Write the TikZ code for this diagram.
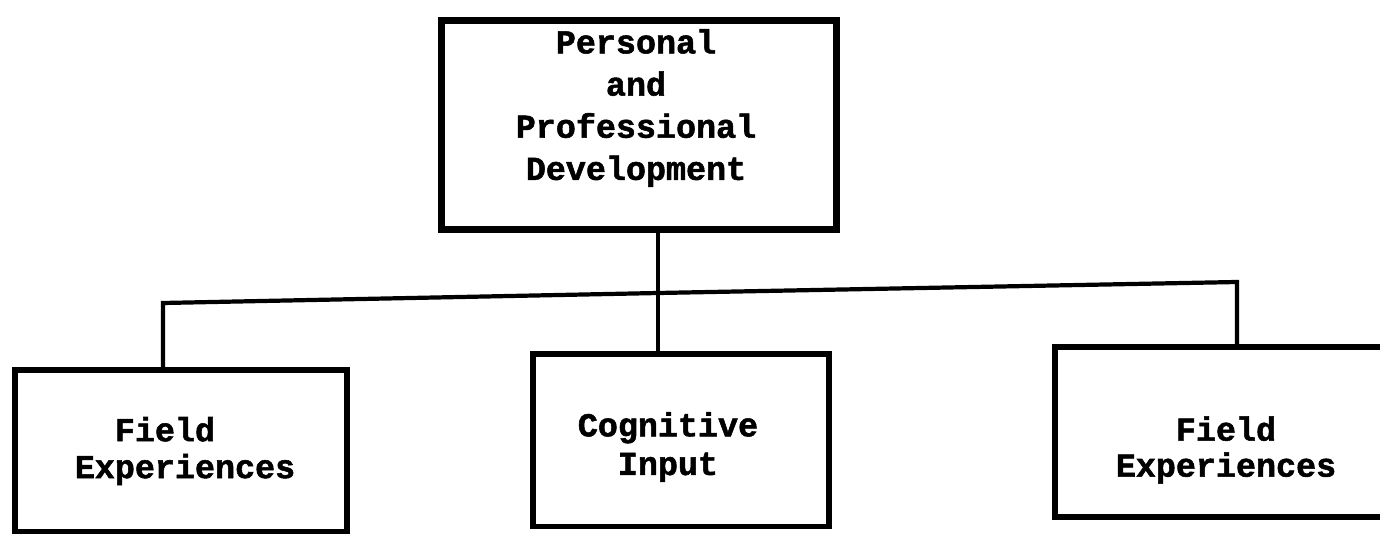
\documentclass[tikz,border=0pt]{standalone}
\usepackage{fontspec}
\setmonofont{Liberation Mono}[BoldFeatures={FakeBold=1.6}]
\usetikzlibrary{positioning,calc}
\tikzset{
    typed/.style={
        font={\ttfamily\bfseries\fontsize{19pt}{#1}\selectfont},
        inner sep=0pt,
        align=center
    },
    typed/.default=23pt,
    link/.style={draw, line width=2.4pt},
}

\begin{document}
\begin{tikzpicture}
[
    x=0.02cm, y=-0.02cm,
    topbox/.style={shape=rectangle, draw, line width=4pt, inner sep=0pt,
        minimum width=7.92cm, minimum height=4.2cm},
    lowbox/.style={shape=rectangle, draw, line width=3.4pt, inner sep=0pt},
]
\useasboundingbox (0,0) rectangle (1380,534);
\clip (0,0) rectangle (1380,534);
% top of the tree
\node[topbox] (ppd) at (639,125) {};
\node[typed=24pt] (ppdtext) at (636,108) {Personal\\and\\Professional\\Development};
% the three branches
\node[lowbox, minimum width=6.64cm, minimum height=3.24cm] (fe1) at (181,451) {};
\node[typed=21pt, align=left] (fe1text) at (185,451) {\phantom{xx}Field\\Experiences};
\node[lowbox, minimum width=5.94cm, minimum height=3.46cm] (ci) at (681,440) {};
\node[typed=22pt] (citext) at (668,447) {Cognitive\\Input};
\node[lowbox, minimum width=6.9cm, minimum height=3.4cm] (fe2) at (1227,432) {};
\node[typed=20.5pt] (fe2text) at (1226,450) {Field\\Experiences};
% connectors
\coordinate (jl) at (163,303);
\coordinate (jm) at (658,293);
\coordinate (jr) at (1237,282);
\draw[link] (fe1.north -| jl) -- (jl) -- (jm) -- (jr) -- (fe2.north -| jr);
\draw[link] (ppd.south -| jm) -- (ci.north -| jm);
\end{tikzpicture}
\end{document}
